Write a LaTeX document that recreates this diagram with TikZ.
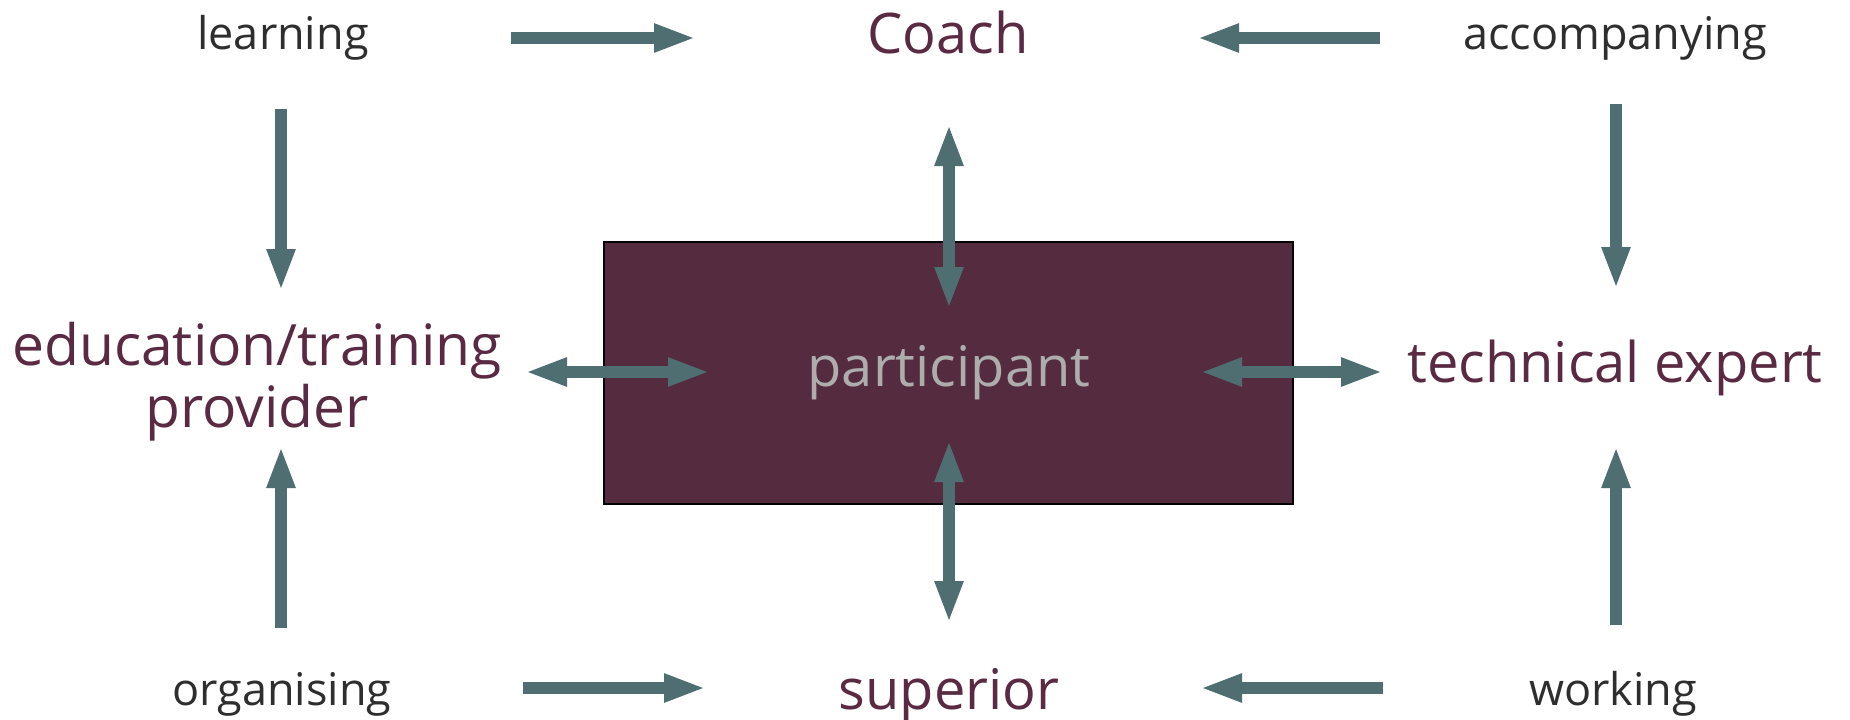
\documentclass[tikz,border=0pt]{standalone}
\usepackage{fontspec}
\setmainfont{Open Sans}
\usetikzlibrary{arrows.meta}
\definecolor{maroon}{HTML}{5A2A42}
\definecolor{boxfill}{HTML}{552B3F}
\definecolor{arrowc}{HTML}{4E6E72}
\definecolor{labelc}{HTML}{2E2E2E}
\definecolor{partc}{HTML}{ADADAD}
\tikzset{
  big/.style={text=maroon, font=\fontsize{56}{62}\selectfont, inner sep=0pt, anchor=base, align=center},
  small/.style={text=labelc, font=\fontsize{45}{50}\selectfont, inner sep=0pt, anchor=base},
  arr/.style={draw=arrowc, line width=12pt, -{Triangle[length=42pt,width=26pt]}},
  darr/.style={draw=arrowc, line width=12pt, {Triangle[length=42pt,width=26pt]}-{Triangle[length=42pt,width=26pt]}},
}
\begin{document}
\begin{tikzpicture}[x=1pt,y=-1pt]
\path[fill=white] (0,0) rectangle (1850,720);
\useasboundingbox (0,0) rectangle (1850,720);
% central box
\node[draw=black, line width=2.5pt, fill=boxfill, minimum width=689pt, minimum height=262pt, inner sep=0pt] (box) at (948.5,373) {};
\node[text=partc, font=\fontsize{56}{62}\selectfont, inner sep=0pt, anchor=base] (part) at (949,386) {participant};
% labels
\node[big] (coach) at (948,53) {Coach};
\node[big] (super) at (949,709) {superior};
\node[big, font=\fontsize{57}{62}\selectfont] (edu) at (257,427) {education/training\\provider};
\node[big] (tech) at (1615,382) {technical expert};
\node[small] (learn) at (283,49) {learning};
\node[small] (accomp) at (1615,49) {accompanying};
\node[small] (org) at (282,705) {organising};
\node[small] (work) at (1613,705) {working};
% arrow end points
\coordinate (a1s) at (511,38);  \coordinate (a1e) at (696,38);
\coordinate (a2s) at (1380,38); \coordinate (a2e) at (1197,38);
\coordinate (a3s) at (281,109); \coordinate (a3e) at (281,291);
\coordinate (a4s) at (1616,104);\coordinate (a4e) at (1616,289);
\coordinate (a5s) at (281,628); \coordinate (a5e) at (281,446);
\coordinate (a6s) at (1616,625);\coordinate (a6e) at (1616,446);
\coordinate (a7s) at (523,688); \coordinate (a7e) at (706,688);
\coordinate (a8s) at (1383,688);\coordinate (a8e) at (1200,688);
\coordinate (b1s) at (525,372); \coordinate (b1e) at (710,372);
\coordinate (b2s) at (1200,372);\coordinate (b2e) at (1383,372);
\coordinate (b3s) at (949,124); \coordinate (b3e) at (949,309);
\coordinate (b4s) at (949,440); \coordinate (b4e) at (949,623);
% arrows
\draw[arr] (a1s) -- (a1e);
\draw[arr] (a2s) -- (a2e);
\draw[arr] (a3s) -- (a3e);
\draw[arr] (a4s) -- (a4e);
\draw[arr] (a5s) -- (a5e);
\draw[arr] (a6s) -- (a6e);
\draw[arr] (a7s) -- (a7e);
\draw[arr] (a8s) -- (a8e);
\draw[darr] (b1s) -- (b1e);
\draw[darr] (b2s) -- (b2e);
\draw[darr] (b3s) -- (b3e);
\draw[darr] (b4s) -- (b4e);
\end{tikzpicture}
\end{document}
